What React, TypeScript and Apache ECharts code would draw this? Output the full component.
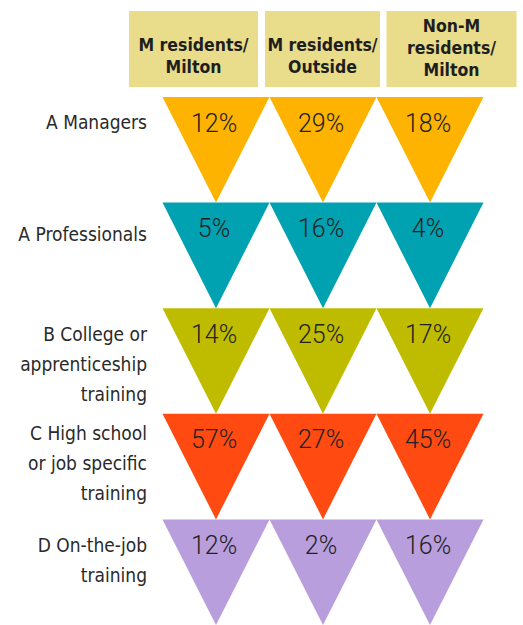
import React, { useEffect, useRef } from "react";
import * as echarts from "echarts";

const headers = ["M residents/\nMilton", "M residents/\nOutside", "Non-M\nresidents/\nMilton"];
const categories = [
  "A Managers",
  "A Professionals",
  "B College or\napprenticeship\ntraining",
  "C High school\nor job specific\ntraining",
  "D On-the-job\ntraining",
];
const mResidentsMilton = [12, 5, 14, 57, 12];
const mResidentsOutside = [29, 16, 25, 27, 2];
const nonMResidentsMilton = [18, 4, 17, 45, 16];
const rowColors = ["#FDB300", "#00A1B1", "#BFBC00", "#FF4A12", "#B89EDC"];

const columns = [mResidentsMilton, mResidentsOutside, nonMResidentsMilton];

const NARROW = '"Liberation Sans Narrow", "DejaVu Sans Condensed", "Roboto Condensed", "Noto Sans", sans-serif';
const PCT_FONT = 'Roboto, Lato, "Noto Sans", sans-serif';

export default function App() {
  const ref = useRef<HTMLDivElement>(null);
  useEffect(() => {
    if (!ref.current) return;
    const chart = echarts.init(ref.current, null, { renderer: "svg" });
    const data: number[][] = [];
    columns.forEach((vals, c) => vals.forEach((v, r) => data.push([c, r, v])));

    // spacer lines (before / after) that shift each label block vertically
    const spacerBefore = [0, 0, 6, 0, 0];
    const spacerAfter = [55, 42, 0, 7, 25];
    const rich: any = {
      t: { fontFamily: NARROW, fontSize: 19, lineHeight: 30, color: "#2a2a2a", align: "right" },
    };
    const spacerSizes = Array.from(new Set([...spacerBefore, ...spacerAfter])).filter((s) => s > 0);
    spacerSizes.forEach((s) => {
      rich["s" + s] = { fontSize: 1, lineHeight: s, height: s };
    });

    const headerWidths = [129, 115, 130];
    const headerPads = [
      [23, 0, 9, 0],
      [23, 0, 9, 0],
      [4, 0, 6, 0],
    ];

    chart.setOption({
      animation: false,
      backgroundColor: "#ffffff",
      grid: [
        { left: 162.5, width: 321, top: 97, height: 534, containLabel: false },
        { left: 129, width: 387, top: 11, height: 76, containLabel: false },
      ],
      xAxis: [
        {
          gridIndex: 0,
          type: "category",
          data: headers.map((h) => h.replace(/\n/g, " ")),
          axisLine: { show: false },
          axisTick: { show: false },
          axisLabel: { show: false },
          splitLine: { show: false },
        },
        {
          gridIndex: 1,
          type: "category",
          position: "top",
          data: headers.map((h, i) => ({
            value: h,
            textStyle: {
              width: headerWidths[i],
              padding: headerPads[i],
            },
          })),
          axisLine: { show: false },
          axisTick: { show: false },
          splitLine: { show: false },
          axisLabel: {
            interval: 0,
            margin: 0,
            verticalAlign: "top",
            align: "center",
            backgroundColor: "#E9DC8A",
            color: "#1e1e1e",
            fontFamily: NARROW,
            fontWeight: "bold",
            fontSize: 17.5,
            lineHeight: 22,
            overflow: "none",
          },
        },
      ],
      yAxis: [
        {
          gridIndex: 0,
          type: "category",
          inverse: true,
          data: categories,
          axisLine: { show: false },
          axisTick: { show: false },
          splitLine: { show: false },
          axisLabel: {
            interval: 0,
            margin: 15.5,
            align: "right",
            verticalAlign: "middle",
            formatter: (value: string, index: number) => {
              const lines = value.split("\n").map((l) => "{t|" + l + "}");
              if (spacerBefore[index] > 0) lines.unshift("{s" + spacerBefore[index] + "| }");
              if (spacerAfter[index] > 0) lines.push("{s" + spacerAfter[index] + "| }");
              return lines.join("\n");
            },
            rich,
          },
        },
        {
          gridIndex: 1,
          type: "value",
          show: false,
        },
      ],
      series: [
        {
          type: "custom",
          xAxisIndex: 0,
          yAxisIndex: 0,
          data,
          renderItem: (params: any, api: any) => {
            const col = api.value(0);
            const row = api.value(1);
            const val = api.value(2);
            const [cx, cy] = api.coord([col, row]);
            const [w, h] = api.size([1, 1]);
            return {
              type: "group",
              children: [
                {
                  type: "polygon",
                  shape: {
                    points: [
                      [cx - w / 2, cy - h / 2],
                      [cx + w / 2, cy - h / 2],
                      [cx, cy + h / 2],
                    ],
                  },
                  style: { fill: rowColors[row] },
                },
                {
                  type: "text",
                  x: cx - 2,
                  y: cy - h / 2 + 26,
                  style: {
                    text: val + "%",
                    fill: "#222222",
                    fontFamily: PCT_FONT,
                    fontWeight: 300,
                    fontSize: 25,
                    align: "center",
                    verticalAlign: "middle",
                  },
                },
              ],
            };
          },
        },
      ],
    });
    return () => chart.dispose();
  }, []);

  return (
    <div
      ref={ref}
      style={{ position: "fixed", left: 0, top: 0, width: 523, height: 625, background: "#fff" }}
    />
  );
}
